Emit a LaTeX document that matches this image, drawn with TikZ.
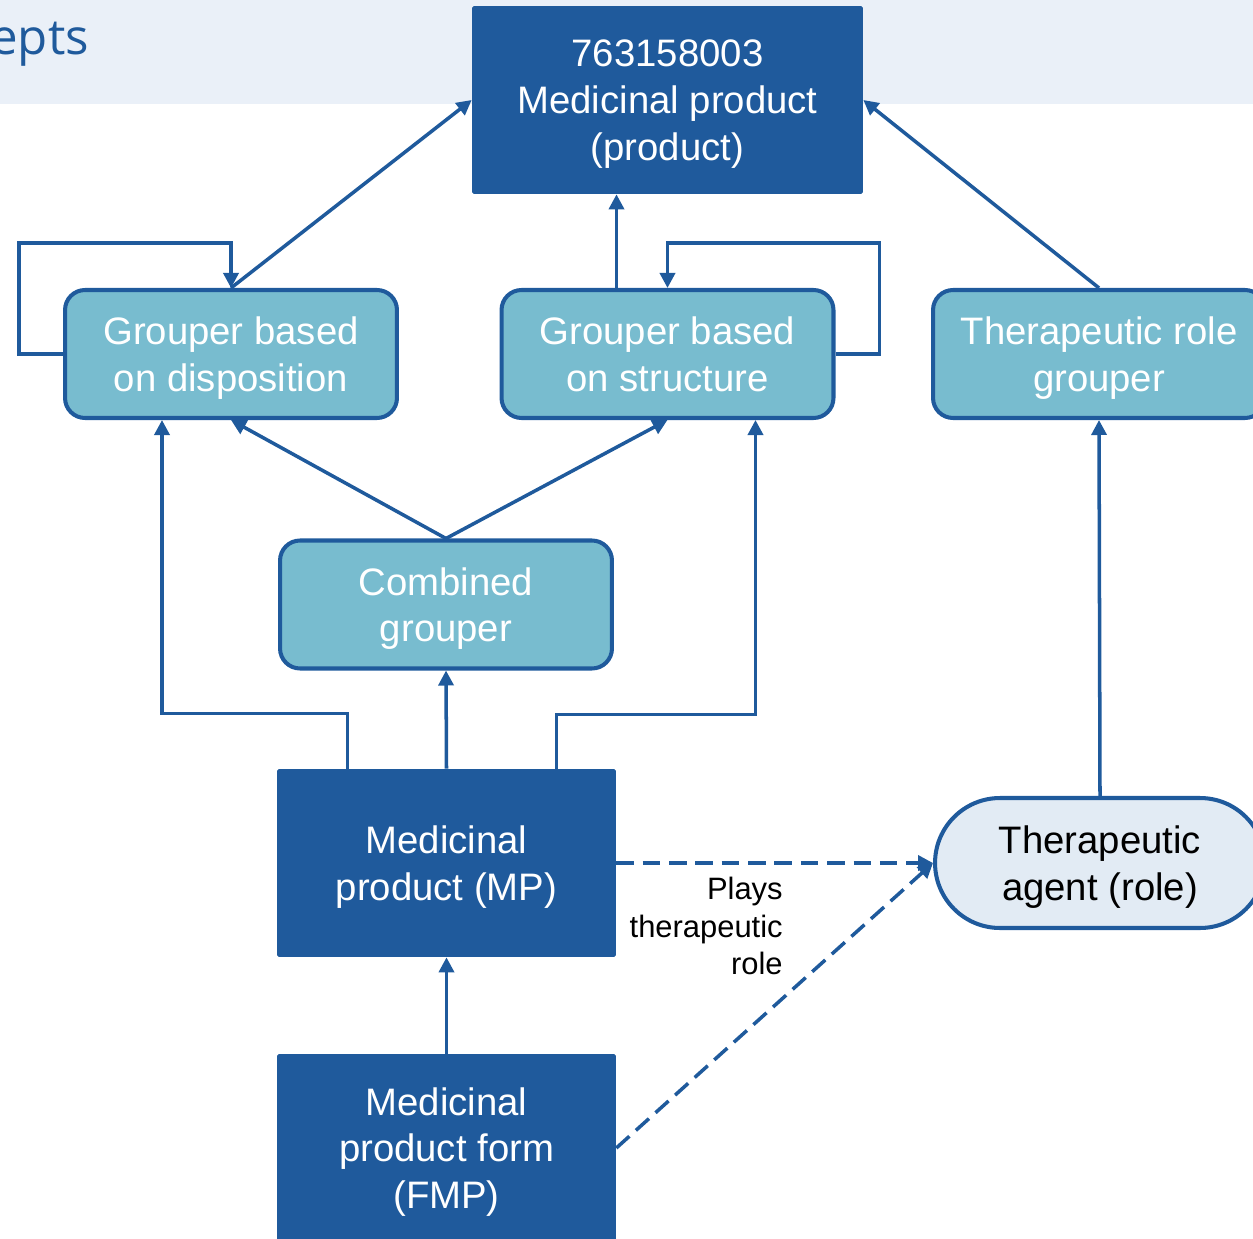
\documentclass[tikz,border=0pt]{standalone}
\usepackage{fontspec}
\setmainfont{Liberation Sans}
\newfontfamily\titlefont{Open Sans}
\usetikzlibrary{arrows.meta,calc}
\definecolor{navy}{RGB}{31,90,156}
\definecolor{grpfill}{RGB}{120,188,207}
\definecolor{band}{RGB}{234,240,248}
\definecolor{agentfill}{RGB}{226,235,244}
\begin{document}
\begin{tikzpicture}[x=0.02cm,y=-0.02cm,
  every node/.style={inner sep=0pt},
  bodyfont/.style={font=\fontsize{21.8}{26.6}\selectfont, text depth=0pt},
  darkbox/.style={bodyfont, fill=navy, text=white, align=center,
    minimum width=6.78cm, minimum height=3.76cm, rounded corners=1pt},
  grpbox/.style={bodyfont, fill=grpfill, draw=navy, line width=2.3pt, text=white,
    rounded corners=0.4cm, align=center, minimum width=6.64cm, minimum height=2.56cm},
  rolebox/.style={bodyfont, fill=agentfill, draw=navy, line width=2.3pt, text=black,
    rounded corners=1.3cm, align=center, minimum width=6.6cm, minimum height=2.6cm},
  link/.style={draw=navy, line width=2pt, -{Triangle[length=0.3cm,width=0.3cm]}},
  rolelink/.style={link, dash pattern=on 10pt off 5pt}
]
\useasboundingbox (0,0) rectangle (1253,1239);

% title band
\fill[band] (0,0) rectangle (1253,104);
\node[anchor=base west, text=navy, font=\titlefont\fontsize{28}{33}\selectfont] (title) at (-10,55) {epts};

% concept boxes
\node[darkbox, minimum width=7.82cm] (top) at (667.5,100) {763158003\\Medicinal product\\(product)};
\node[grpbox] (gdisp) at (231,354) {Grouper based\\on disposition};
\node[grpbox] (gstruct) at (667.5,354) {Grouper based\\on structure};
\node[grpbox] (trg) at (1099,354) {Therapeutic role\\grouper};
\node[grpbox] (comb) at (446,604.5) {Combined\\grouper};
\node[darkbox] (mp) at (446.5,863) {Medicinal\\product (MP)};
\node[darkbox] (fmp) at (446.5,1148) {Medicinal\\product form\\(FMP)};
\node[rolebox] (agent) at (1100,863) {Therapeutic\\agent (role)};

% is-a links
\draw[link] (gdisp.north) -- (top.west);
\draw[link] ($(gstruct.north)+(-51,0)$) coordinate (gs) -- (gs |- top.south);
\draw[link] (trg.north) -- (top.east);
\draw[link] (gdisp.west) -- ++(-44,0) |- ($(gdisp.north)+(0,-45)$) -- (gdisp.north);
\draw[link] (gstruct.east) -- ++(44,0) |- ($(gstruct.north)+(0,-45)$) -- (gstruct.north);
\draw[link] (comb.north) -- (gdisp.south);
\draw[link] (comb.north) -- (gstruct.south);
\draw[link] ($(mp.north)+(-99,0)$) -- ++(0,-55) -| ($(gdisp.south)+(-69,0)$);
\draw[link] (mp.north) -- (comb.south);
\draw[link] ($(mp.north)+(110,0)$) -- ++(0,-54) -| ($(gstruct.south)+(88,0)$);
\draw[link] (agent.north) -- (trg.south);
\draw[link] (fmp.north) -- (mp.south);

% role links
\draw[rolelink] (mp.east) -- (agent.west);
\draw[rolelink] (fmp.east) -- (agent.west);
\node[anchor=north east, align=right, font=\fontsize{17.6}{21.3}\selectfont] (plays) at (783,877) {Plays\\therapeutic\\role};
\end{tikzpicture}
\end{document}
